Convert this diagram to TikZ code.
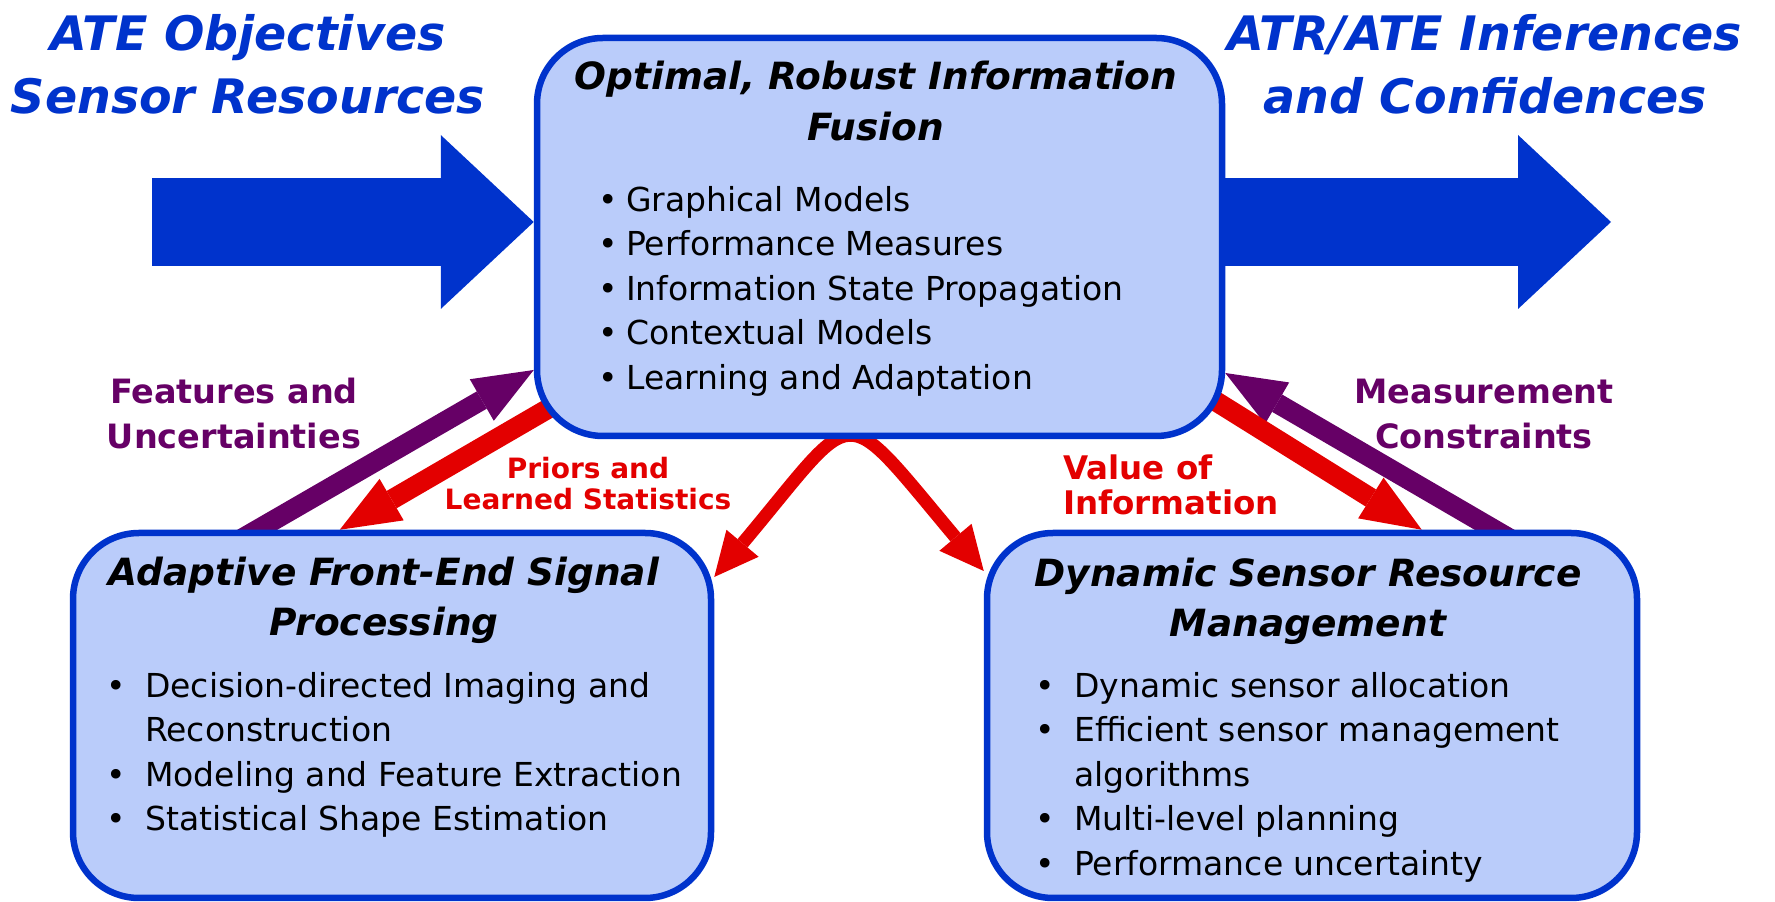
\documentclass[tikz,border=0pt]{standalone}
\usepackage{fontspec}
\setmainfont{DejaVu Sans}[
  ItalicFont=DejaVu Sans Oblique,
  BoldFont=DejaVu Sans Bold,
  BoldItalicFont=DejaVu Sans Bold Oblique]
\usetikzlibrary{arrows.meta,backgrounds}
\definecolor{fusionBlue}{HTML}{0033CC}
\definecolor{panelFill}{HTML}{BACCFA}
\definecolor{priorRed}{HTML}{E30000}
\definecolor{featurePurple}{HTML}{660066}
\tikzset{
  panel/.style={draw=fusionBlue,fill=panelFill,line width=6.5pt,rounded corners=66pt,inner sep=0pt},
  panel title/.style={font=\fontsize{37.5}{50}\selectfont\bfseries\itshape,align=center,inner sep=0pt,anchor=north},
  panel items/.style={font=\fontsize{33}{44.5}\selectfont,align=left,inner sep=0pt,anchor=north west},
  heading/.style={text=fusionBlue,font=\fontsize{47.5}{63}\selectfont\bfseries\itshape,align=center,inner sep=0pt,anchor=north},
  flow label/.style={font=\fontsize{33.5}{45}\selectfont\bfseries,align=center,inner sep=0pt,anchor=north},
  big flow/.style={draw=fusionBlue,line width=88pt,-{Triangle[length=93pt,width=174pt,line width=0pt]}},
  loop flow/.style={line width=20pt,-{Triangle[length=60pt,width=48pt,line width=0pt]}},
}
\newcommand\itembul[1][39pt]{\makebox[#1][l]{\textbullet}}
\newcommand\itemhang[1][39pt]{\hspace*{#1}}

\begin{document}
\begin{tikzpicture}[x=1pt,y=1pt]
\path[use as bounding box] (0,0) rectangle (1775,902);

\node[heading] (inHead) at (248,888) {ATE Objectives\\Sensor Resources};
\node[heading] (outHead) at (1485,888) {ATR/ATE Inferences\\and Confidences};

\node[panel,minimum width=685pt,minimum height=398pt] (fusion) at (879.5,665) {};
\node[panel,minimum width=638pt,minimum height=365pt] (frontend) at (392,186.5) {};
\node[panel,minimum width=650pt,minimum height=365pt] (sensors) at (1312,186.5) {};

\node[panel title,font=\fontsize{37.5}{51}\selectfont\bfseries\itshape] (fusionTitle) at (876,841.5) {Optimal, Robust Information\\Fusion};
\node[panel items] (fusionItems) at (598,716) {%
  \itembul[28pt]Graphical Models\\
  \itembul[28pt]Performance Measures\\
  \itembul[28pt]Information State Propagation\\
  \itembul[28pt]Contextual Models\\
  \itembul[28pt]Learning and Adaptation};

\node[panel title] (frontendTitle) at (384,345.5) {Adaptive Front-End Signal\\Processing};
\node[panel items] (frontendItems) at (106,230) {%
  \itembul Decision-directed Imaging and\\
  \itemhang Reconstruction\\
  \itembul Modeling and Feature Extraction\\
  \itembul Statistical Shape Estimation};

\node[panel title] (sensorsTitle) at (1308,344.3) {Dynamic Sensor Resource\\Management};
\node[panel items] (sensorsItems) at (1035,230) {%
  \itembul Dynamic sensor allocation\\
  \itembul Efficient sensor management\\
  \itemhang algorithms\\
  \itembul Multi-level planning\\
  \itembul Performance uncertainty};

\node[flow label,text=featurePurple] (featLabel) at (234,524) {Features and\\Uncertainties};
\node[flow label,text=featurePurple] (measLabel) at (1484,523) {Measurement\\Constraints};
\node[flow label,text=priorRed,font=\fontsize{28}{31}\selectfont\bfseries] (priorLabel) at (588,445.3) {Priors and\\Learned Statistics};
\node[flow label,text=priorRed,font=\fontsize{32.5}{35}\selectfont\bfseries,align=left,anchor=north west] (valueLabel) at (1063,447) {Value of\\Information};

\coordinate (objIn) at (152,680);
\coordinate (infOut) at (1611,680);

\begin{pgfonlayer}{background}
\draw[big flow] (objIn) -- (objIn -| fusion.west);
\draw[big flow] (infOut -| fusion.east) -- (infOut);
\draw[loop flow,draw=featurePurple] ([shift={(153,-20)}]frontend.north west) -- ([yshift=-133pt]fusion.west);
\draw[loop flow,draw=priorRed] ([shift={(41,46)}]fusion.south west) -- ([xshift=270pt]frontend.north west);
\draw[loop flow,draw=featurePurple] ([shift={(-108,-22)}]sensors.north east) -- ([yshift=-136pt]fusion.east);
\draw[loop flow,draw=priorRed] ([shift={(-22.75,46.25)}]fusion.south east) -- ([xshift=438pt]sensors.north west);
\draw[draw=priorRed,line width=13pt,{Triangle[length=44pt,width=42pt,line width=0pt]}-{Triangle[length=44pt,width=42pt,line width=0pt]}]
  ([yshift=138.5pt]frontend.east) to[out=50,in=130,looseness=2.15] ([yshift=144.5pt]sensors.west);
\end{pgfonlayer}
\end{tikzpicture}
\end{document}
